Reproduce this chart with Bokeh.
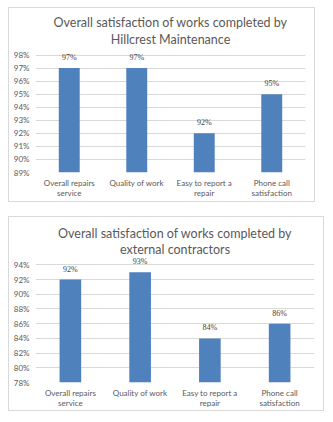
from bokeh.plotting import figure
from bokeh.layouts import column
from bokeh.models import FixedTicker, ColumnDataSource, LabelSet, Title
from bokeh.embed import file_html
from bokeh.resources import INLINE

categories = ["Overall repairs\nservice", "Quality of work", "Easy to report a\nrepair", "Phone call\nsatisfaction"]
hillcrest = [97, 97, 92, 95]
external = [92, 93, 84, 86]
hill_ticks = [89, 90, 91, 92, 93, 94, 95, 96, 97, 98]
ext_ticks = [78, 80, 82, 84, 86, 88, 90, 92, 94]
title1 = ["Overall satisfaction of works completed by", "Hillcrest Maintenance"]
title2 = ["Overall satisfaction of works completed by", "external contractors"]

FONT = "Lato"
GRAY = "#595959"
GRID = "#d9d9d9"
BAR = "#4F81BD"


def make_chart(title_lines, values, ticks, headroom, width, height, mleft, mright,
               mtop, mbottom, margin, toff, tstand):
    src = ColumnDataSource(dict(cat=categories, val=values,
                                lab=[f"{v}%" for v in values],
                                base=[ticks[0]] * len(values)))
    p = figure(x_range=categories, y_range=(ticks[0], ticks[-1] + headroom), title=None,
               width=width, height=height, output_backend="svg",
               toolbar_location=None, min_border_left=mleft, min_border_right=mright,
               min_border_top=mtop, min_border_bottom=mbottom, margin=margin)
    p.styles = {"border": f"1px solid {GRID}"}
    p.vbar(x="cat", top="val", bottom="base", width=0.31, source=src,
           fill_color=BAR, line_color=None)
    labels = LabelSet(x="cat", y="val", text="lab", source=src, text_align="center",
                      text_baseline="bottom", y_offset=6, text_font_size="8px",
                      text_color="#404040", text_font=FONT)
    p.add_layout(labels)
    p.outline_line_color = None
    p.background_fill_color = "white"
    p.border_fill_color = "white"
    p.xgrid.grid_line_color = None
    p.ygrid.grid_line_color = GRID
    p.ygrid.ticker = FixedTicker(ticks=ticks)
    p.yaxis.ticker = FixedTicker(ticks=ticks)
    p.yaxis.major_label_overrides = {t: f"{t}%" for t in ticks}
    for ax in (p.xaxis, p.yaxis):
        ax.axis_line_color = None
        ax.major_tick_line_color = None
        ax.minor_tick_line_color = None
        ax.major_tick_out = 0
        ax.major_tick_in = 0
        ax.major_label_text_font = FONT
        ax.major_label_text_font_size = "8px"
        ax.major_label_text_color = GRAY
        ax.major_label_text_line_height = 1.05
    p.yaxis.major_label_standoff = 6
    p.xaxis.major_label_standoff = 5
    p.x_range.range_padding = 0
    for line in reversed(title_lines):
        t = Title(text=line, align="center", text_font=FONT, text_font_size="12.5px",
                  text_font_style="normal", text_color=GRAY, offset=toff,
                  standoff=tstand if line == title_lines[-1] else -2)
        p.add_layout(t, "above")
    return p


p1 = make_chart(title1, hillcrest, hill_ticks, 0.5, 307, 195, 26, 8, 40, 31, (7, 0, 0, 8), -9, 3)
p2 = make_chart(title2, external, ext_ticks, 1.0, 316, 195, 26, 11, 40, 30, (14, 0, 0, 8), -8, 1)

layout = column(p1, p2)
open("out.html", "w").write(file_html(layout, INLINE))
